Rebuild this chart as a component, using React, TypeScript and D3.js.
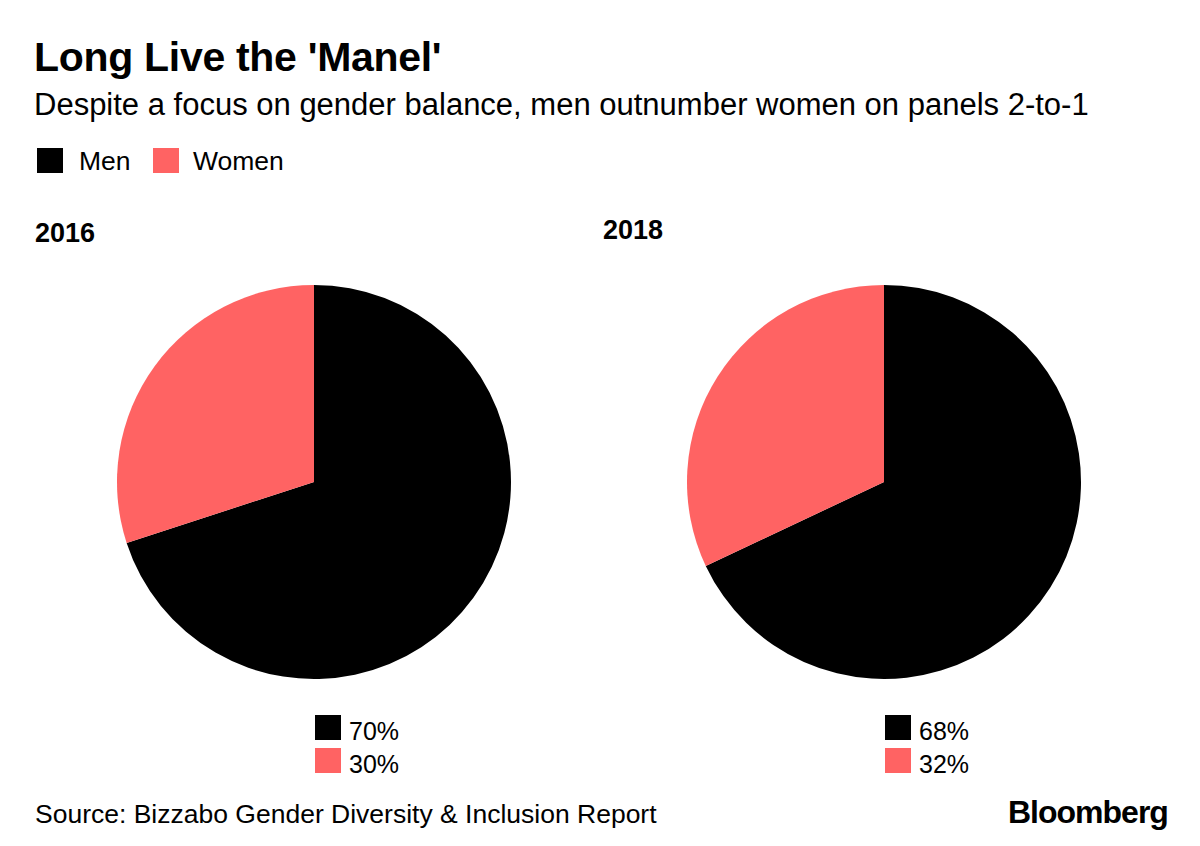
import React from "react";
import * as d3 from "d3";

const categories = ["Men", "Women"];
const years = ["2016", "2018"];
const menShare = [70, 68];
const womenShare = [30, 32];
const colors = ["#000000", "#ff6363"];

const W = 1200;
const H = 846;
const FONT = "'Liberation Sans', Arial, Helvetica, sans-serif";

export default function App() {
  const radius = 197;
  const centers = d3.scalePoint<string>().domain(years).range([314, 884]);
  const cy = 482;
  const pie = d3
    .pie<number>()
    .sort(null)
    .value((d) => d)
    .startAngle(0)
    .endAngle(2 * Math.PI);
  const arc = d3.arc<d3.PieArcDatum<number>>().innerRadius(0).outerRadius(radius);
  const yearLabelX = [35, 603];
  const yearLabelY = [242, 239];

  return (
    <svg
      width={W}
      height={H}
      viewBox={`0 0 ${W} ${H}`}
      style={{ position: "absolute", left: 0, top: 0, background: "#fff" }}
      fontFamily={FONT}
    >
      <rect width={W} height={H} fill="#fff" />
      <text x={34} y={71} fontSize={41} fontWeight="bold" letterSpacing={-0.3} fill="#000">
        Long Live the 'Manel'
      </text>
      <text x={34} y={115} fontSize={31} fill="#000">
        Despite a focus on gender balance, men outnumber women on panels 2-to-1
      </text>

      {/* top legend */}
      <g>
        <rect x={37} y={148} width={26} height={25} fill={colors[0]} />
        <text x={79} y={170} fontSize={26.5} fill="#000">
          {categories[0]}
        </text>
        <rect x={153} y={148} width={26} height={25} fill={colors[1]} />
        <text x={193} y={170} fontSize={26.5} fill="#000">
          {categories[1]}
        </text>
      </g>

      {years.map((yr, i) => {
        const cx = centers(yr) as number;
        const values = [menShare[i], womenShare[i]];
        const arcs = pie(values);
        return (
          <g key={yr}>
            <text x={yearLabelX[i]} y={yearLabelY[i]} fontSize={27} fontWeight="bold" fill="#000">
              {yr}
            </text>
            <g transform={`translate(${cx},${cy})`}>
              {arcs.map((a, j) => (
                <path key={j} d={arc(a) || ""} fill={colors[j]} />
              ))}
            </g>
            {values.map((v, j) => (
              <g key={j}>
                <rect x={cx + 1} y={715 + j * 33} width={26} height={25} fill={colors[j]} />
                <text x={cx + 35} y={740 + j * 33} fontSize={25} fill="#000">
                  {`${v}%`}
                </text>
              </g>
            ))}
          </g>
        );
      })}

      <text x={35} y={823} fontSize={26.5} fill="#000">
        Source: Bizzabo Gender Diversity &amp; Inclusion Report
      </text>
      <text x={1008} y={823} fontSize={32} fontWeight="bold" letterSpacing={-1} fill="#000">
        Bloomberg
      </text>
    </svg>
  );
}
